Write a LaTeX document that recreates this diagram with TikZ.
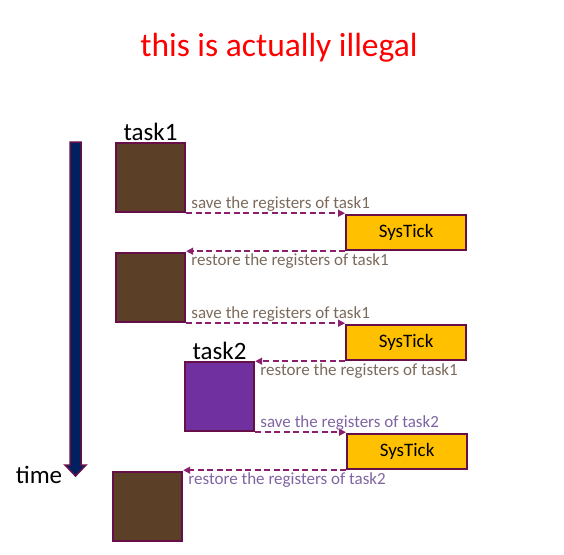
\documentclass[tikz,border=0pt]{standalone}
\usepackage{fontspec}
\setmainfont{Carlito}
\usepackage{tikz}
\usetikzlibrary{positioning,arrows.meta}
\definecolor{TaskBrown}{HTML}{5B3F27}
\definecolor{TaskPurple}{HTML}{7030A0}
\definecolor{TickGold}{HTML}{FFC000}
\definecolor{Edge}{HTML}{660F48}
\definecolor{Flow}{HTML}{8B1F6E}
\definecolor{NoteOne}{HTML}{7B6A5C}
\definecolor{NoteTwo}{HTML}{8064A2}
\definecolor{TimeNavy}{HTML}{002060}

\begin{document}
\begin{tikzpicture}[
  x=1pt, y=-1pt,
  task/.style={draw=Edge,line width=2.2pt,fill=TaskBrown,minimum width=69pt,
               minimum height=69pt,inner sep=0pt,anchor=north west},
  tick/.style={draw=Edge,line width=2.2pt,fill=TickGold,minimum width=120pt,
               minimum height=35pt,inner sep=0pt,anchor=north west,
               font=\fontsize{19}{22}\selectfont},
  arr/.style={-{Triangle[length=7pt,width=7pt]},dash pattern=on 6pt off 3.5pt,
              line width=1.5pt,draw=Flow},
  lbl/.style={font=\fontsize{17}{20}\selectfont,inner sep=1.5pt,xshift=3pt},
  tasklabel/.style={font=\fontsize{25}{28}\selectfont,anchor=south,inner sep=1pt}]

\useasboundingbox (0,0) rectangle (564,554);

\node[font=\fontsize{33.5}{38}\selectfont,text=red] (title) at (279,48) {this is actually illegal};

\filldraw[draw=Edge,fill=TimeNavy,line width=1.5pt]
  (70,142) -- (81,142) -- (81,465) -- (86,465) -- (75.5,476) -- (65,465)
  -- (70,465) -- cycle;
\node[font=\fontsize{25}{28}\selectfont] (time) at (39,475) {time};

\node[task] (b1) at (115,142) {};
\node[task] (b2) at (115,252) {};
\node[task,fill=TaskPurple] (b3) at (184,361) {};
\node[task] (b4) at (112,471) {};

\node[tick] (s1) at (345,214) {SysTick};
\node[tick] (s2) at (345,324) {SysTick};
\node[tick] (s3) at (346,433) {SysTick};

\node[tasklabel] (n1) at (b1.north) {task1};
\node[tasklabel] (n2) at (b3.north) {task2};

\draw[arr] (b1.south east) -- (b1.south east -| s1.west)
  node[lbl,pos=0,anchor=south west,text=NoteOne] (l1) {save the registers of task1};
\draw[arr] (s1.south west) -- (s1.south west -| b2.east)
  node[lbl,pos=1,anchor=north west,text=NoteOne] (l2) {restore the registers of task1};
\draw[arr] (b2.south east) -- (b2.south east -| s2.west)
  node[lbl,pos=0,anchor=south west,text=NoteOne] (l3) {save the registers of task1};
\draw[arr] (s2.south west) -- (s2.south west -| b3.east)
  node[lbl,pos=1,anchor=north west,text=NoteOne] (l4) {restore the registers of task1};
\draw[arr] (b3.south east) -- (b3.south east -| s3.west)
  node[lbl,pos=0,anchor=south west,text=NoteTwo] (l5) {save the registers of task2};
\draw[arr] (s3.south west) -- (s3.south west -| b4.east)
  node[lbl,pos=1,anchor=north west,text=NoteTwo] (l6) {restore the registers of task2};
\end{tikzpicture}
\end{document}
